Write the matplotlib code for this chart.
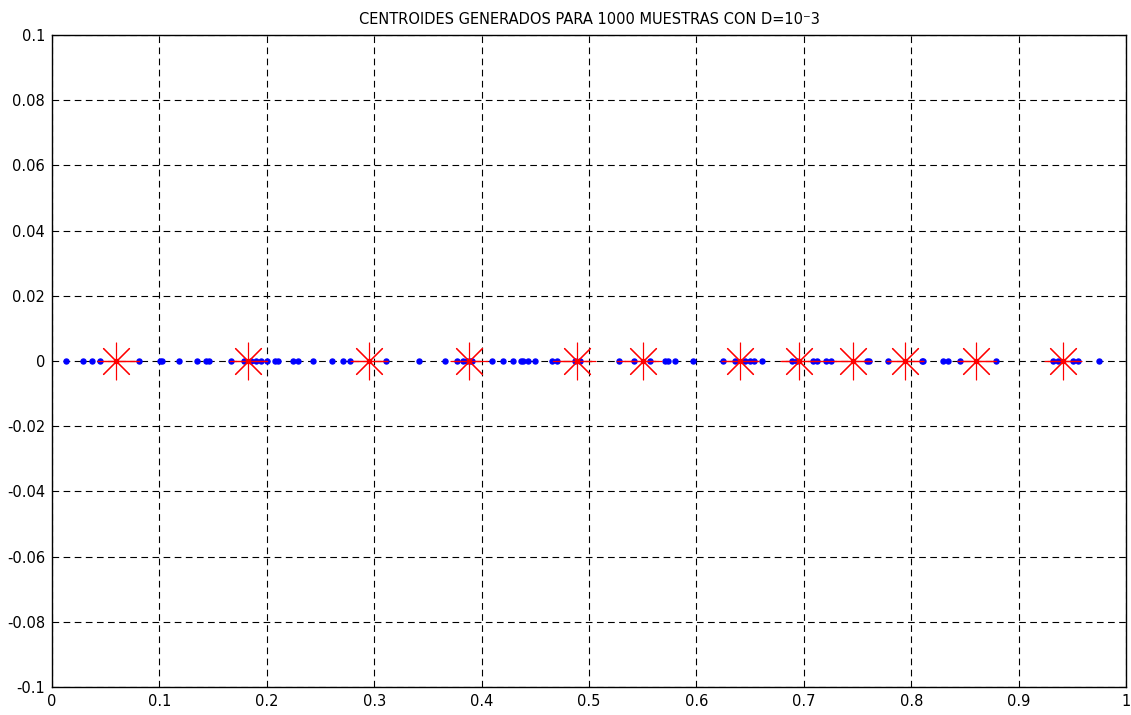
"""Centroides generados (cuantizador 1-D) para 1000 muestras, D=10^-3."""

import matplotlib

matplotlib.use("Agg")

import matplotlib.pyplot as plt
import numpy as np

# ---------------------------------------------------------------------------
# Data
# ---------------------------------------------------------------------------

samples = [
    0.013, 0.029, 0.0375, 0.045, 0.081, 0.101, 0.1027, 0.1185, 0.1347,
    0.1431, 0.1465, 0.1667, 0.1788, 0.185, 0.19, 0.195, 0.2, 0.208, 0.21,
    0.2247, 0.2293, 0.2433, 0.261, 0.2712, 0.2775, 0.311, 0.342, 0.366,
    0.3774, 0.383, 0.386, 0.389, 0.391, 0.41, 0.4196, 0.4295, 0.4364,
    0.4382, 0.4435, 0.4497, 0.4653, 0.4705, 0.487, 0.4916, 0.5279, 0.5422,
    0.5568, 0.5708, 0.5738, 0.58, 0.5966, 0.625, 0.636, 0.645, 0.6499,
    0.6536, 0.6608, 0.6887, 0.6933, 0.7085, 0.7123, 0.7204, 0.7257, 0.7586,
    0.761, 0.7787, 0.8098, 0.8113, 0.8299, 0.8345, 0.8454, 0.8787, 0.9323,
    0.937, 0.951, 0.9556, 0.9751,
]

centroids = [
    0.0596, 0.1828, 0.2955, 0.3886, 0.4885, 0.5506,
    0.6406, 0.6955, 0.7455, 0.7942, 0.86, 0.9416,
]

# extent of the red segment drawn through each cluster
seg_start = [0.0475, 0.1685, 0.2803, 0.3752, 0.466, 0.526,
             0.625, 0.680, 0.709, 0.7784, 0.8454, 0.927]
seg_end = [0.081, 0.2, 0.312, 0.3985, 0.502, 0.561,
           0.656, 0.709, 0.7616, 0.811, 0.879, 0.955]

x_ticks = np.round(np.arange(0, 1.01, 0.1), 2)
x_labels = ["0", "0.1", "0.2", "0.3", "0.4", "0.5",
            "0.6", "0.7", "0.8", "0.9", "1"]
y_ticks = np.round(np.arange(-0.1, 0.101, 0.02), 2)
y_labels = ["-0.1", "-0.08", "-0.06", "-0.04", "-0.02", "0",
            "0.02", "0.04", "0.06", "0.08", "0.1"]


def main() -> None:
    fig = plt.figure(figsize=(11.31, 7.15), dpi=100)
    ax = fig.add_axes([0.046, 0.0392, 0.9496, 0.9118])

    # blue sample points
    ax.plot(samples, np.zeros(len(samples)), linestyle="none", marker="o",
            markersize=3.6, color="#0000ff", zorder=3)

    # red segments through each cluster
    for a, b in zip(seg_start, seg_end):
        ax.plot([a, b], [0, 0], color="#ff0000", linewidth=0.9, zorder=4)

    # centroids: MATLAB-like '*' marker
    ax.plot(centroids, np.zeros(len(centroids)), linestyle="none",
            marker=(8, 2, 0), markersize=27, markeredgewidth=0.8,
            color="#ff0000", zorder=5)
    ax.plot(centroids, np.zeros(len(centroids)), linestyle="none",
            marker="o", markersize=3.0, color="#ff0000", zorder=6)

    ax.set_xlim(0, 1)
    ax.set_ylim(-0.1, 0.1)
    ax.set_xticks(x_ticks)
    ax.set_xticklabels(x_labels)
    ax.set_yticks(y_ticks)
    ax.set_yticklabels(y_labels)
    ax.tick_params(direction="in", length=0, labelsize=10.5,
                   colors="black", pad=5)

    ax.grid(True, color="black", linestyle=(0, (6, 4)), linewidth=0.8)
    ax.set_axisbelow(True)
    for s in ax.spines.values():
        s.set_linewidth(1.0)
        s.set_color("black")

    ax.set_title("CENTROIDES GENERADOS PARA 1000 MUESTRAS CON D=10\u207b3",
                 fontsize=10.5, pad=8)

    fig.savefig("out.png", dpi=100)
    plt.close(fig)


if __name__ == "__main__":
    main()
